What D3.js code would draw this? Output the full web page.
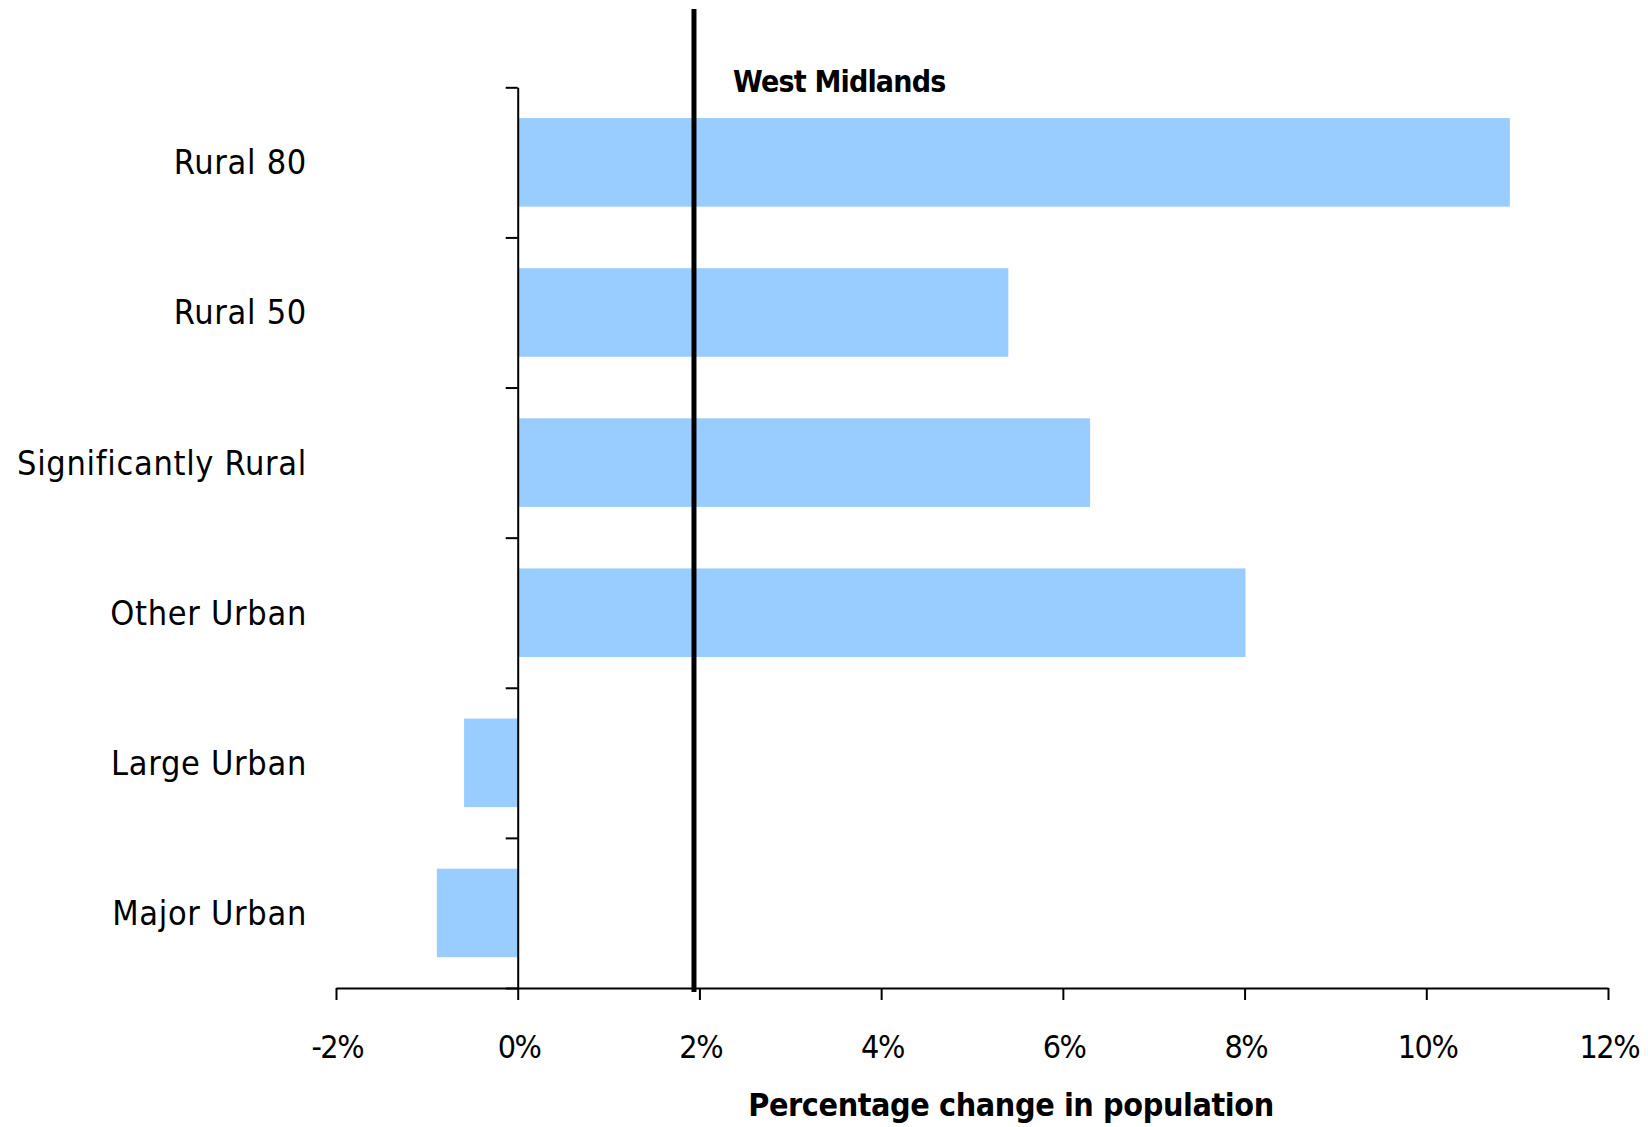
<!DOCTYPE html>
<html>
<head>
<meta charset="utf-8">
<script src="https://cdn.jsdelivr.net/npm/d3@7"></script>
<style>
  html, body { margin: 0; padding: 0; background: #fff; }
  svg { display: block; }
  text { font-family: "DejaVu Sans Condensed", "DejaVu Sans", sans-serif; font-stretch: condensed; fill: #000; }
</style>
</head>
<body>
<svg id="chart" width="1648" height="1127"></svg>
<script>
const categories = ["Rural 80", "Rural 50", "Significantly Rural", "Other Urban", "Large Urban", "Major Urban"];
const values = [10.92, 5.40, 6.30, 8.01, -0.59, -0.89];
const xTicks = [-2, 0, 2, 4, 6, 8, 10, 12];
const referenceValue = 1.94;
const referenceLabel = "West Midlands";
const xTitle = "Percentage change in population";

const svg = d3.select("#chart");
const x = d3.scaleLinear().domain([-2, 12]).range([336, 1608]);
const y = d3.scaleBand().domain(categories).range([87.3, 988]).paddingInner(0.41).paddingOuter(0.205);
const idx = d3.scaleLinear().domain([0, categories.length]).range([87.3, 988]);

// bars
svg.append("g").selectAll("rect").data(categories).join("rect")
  .attr("x", (d, i) => x(Math.min(0, values[i])))
  .attr("width", (d, i) => Math.abs(x(values[i]) - x(0)))
  .attr("y", d => y(d))
  .attr("height", y.bandwidth())
  .attr("fill", "#99CCFF");

// x axis
const xAxis = svg.append("g").attr("transform", "translate(0,988)")
  .call(d3.axisBottom(x).tickValues(xTicks).tickSize(12).tickSizeOuter(0).tickFormat(d => d + "%"));
xAxis.select(".domain").attr("stroke", "#000").attr("stroke-width", 2);
xAxis.selectAll(".tick line").attr("stroke", "#000").attr("stroke-width", 2);
xAxis.selectAll(".tick text").attr("y", 70).attr("dy", 0).attr("x", 0.75)
  .style("font-size", "32px").style("letter-spacing", "-1.5px").style("font-family", null);

// y axis at 0
const yAxis = svg.append("g").attr("transform", `translate(${x(0)},0)`)
  .call(d3.axisLeft(idx).tickValues(d3.range(categories.length + 1)).tickSize(12).tickSizeOuter(0).tickFormat(""));
yAxis.select(".domain").attr("stroke", "#000").attr("stroke-width", 2);
yAxis.selectAll(".tick line").attr("stroke", "#000").attr("stroke-width", 2);

// category labels
svg.append("g").selectAll("text").data(categories).join("text")
  .attr("x", 307)
  .attr("y", d => y(d) + y.bandwidth() / 2 + 12)
  .attr("text-anchor", "end")
  .style("font-size", "34px")
  .style("letter-spacing", "0.7px")
  .text(d => d);

// reference line
svg.append("line")
  .attr("x1", x(referenceValue)).attr("x2", x(referenceValue))
  .attr("y1", 9).attr("y2", 992)
  .attr("stroke", "#000").attr("stroke-width", 5);

svg.append("text")
  .attr("x", 733).attr("y", 92)
  .style("font-size", "30px").style("font-weight", "bold").style("letter-spacing", "-0.8px")
  .text(referenceLabel);

svg.append("text")
  .attr("x", 1011).attr("y", 1116)
  .attr("text-anchor", "middle")
  .style("font-size", "32px").style("font-weight", "bold").style("letter-spacing", "-0.4px")
  .text(xTitle);
</script>
</body>
</html>
